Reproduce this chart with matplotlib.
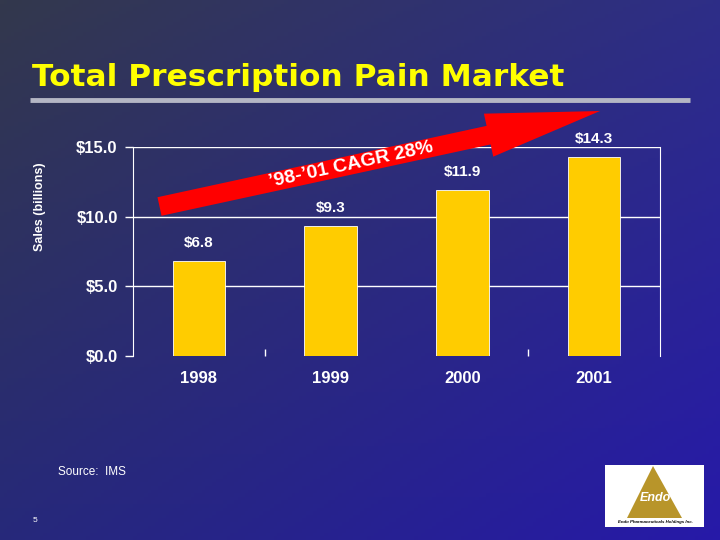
import numpy as np
import matplotlib
matplotlib.use("Agg")
import matplotlib.pyplot as plt
import matplotlib.patches as mpatches

plt.rcParams['font.family'] = ['Liberation Sans', 'DejaVu Sans']

# data
years = ['1998', '1999', '2000', '2001']
sales = [6.8, 9.3, 11.9, 14.3]
value_labels = ['$6.8', '$9.3', '$11.9', '$14.3']
yticks = [0, 5, 10, 15]
ytick_labels = ['$0.0', '$5.0', '$10.0', '$15.0']

W, H = 720, 540
fig = plt.figure(figsize=(7.2, 5.4), dpi=100)

# background gradient (bilinear between corner colours)
bg = fig.add_axes([0, 0, 1, 1])
tl = np.array([0.20, 0.22, 0.30])
tr = np.array([0.18, 0.18, 0.53])
bl = np.array([0.15, 0.16, 0.48])
br = np.array([0.15, 0.10, 0.66])
u = np.linspace(0, 1, 200)[None, :, None]
v = np.linspace(0, 1, 150)[:, None, None]
img = (1 - u) * (1 - v) * tl + u * (1 - v) * tr + (1 - u) * v * bl + u * v * br
bg.imshow(img, extent=[0, W, H, 0], aspect='auto')
bg.set_xlim(0, W)
bg.set_ylim(H, 0)
bg.axis('off')

# title and rule
bg.text(32, 78, 'Total Prescription Pain Market', color='#ffff00',
        fontsize=22.5, fontweight='bold', va='center', ha='left',
        family='DejaVu Sans')
bg.plot([30, 690], [100, 100], color='#b4b6c4', lw=3.5, solid_capstyle='butt')

# chart
ax = fig.add_axes([133 / W, 1 - 356 / H, (660 - 133) / W, (356 - 147) / H])
ax.patch.set_alpha(0)
x = np.arange(len(years))
ax.bar(x, sales, width=0.4, color='#ffcc00', edgecolor='white', linewidth=0.6, zorder=3)
ax.set_xlim(-0.5, 3.5)
ax.set_ylim(0, 15)
ax.set_yticks(yticks)
ax.set_yticklabels(ytick_labels)
ax.set_xticks([0.5, 2.5])
ax.set_xticklabels(['', ''])
for yy in yticks[1:]:
    ax.axhline(yy, color='white', lw=1, zorder=1)
for s in ['top', 'bottom']:
    ax.spines[s].set_visible(False)
for s in ['left', 'right']:
    ax.spines[s].set_color('white')
ax.tick_params(axis='y', colors='white', length=6, width=1, labelsize=12, pad=5)
ax.tick_params(axis='x', colors='white', length=5, width=1, direction='in')
for lab in ax.get_yticklabels():
    lab.set_fontweight('bold')
for i, yr in enumerate(years):
    ax.annotate(yr, (i, 0), xytext=(0, -16), textcoords='offset points',
                ha='center', va='center', color='white', fontsize=12, fontweight='bold')
for i, (v_, lab) in enumerate(zip(sales, value_labels)):
    ax.annotate(lab, (i, v_), xytext=(0, 13), textcoords='offset points',
                ha='center', va='center', color='white', fontsize=11, fontweight='bold',
                zorder=6)

fig.text(40 / W, 1 - 207 / H, 'Sales (billions)', rotation=90, color='white',
         fontsize=9, fontweight='bold', ha='center', va='center')

# CAGR arrow drawn in pixel space on an overlay
ov = fig.add_axes([0, 0, 1, 1])
ov.patch.set_alpha(0)
ov.set_xlim(0, W)
ov.set_ylim(H, 0)
ov.axis('off')
x0, y0, x1, y1 = 159.5, 206.5, 600, 111
arr = mpatches.FancyArrow(x0, y0, x1 - x0, y1 - y0, width=19, head_width=44,
                          head_length=114, length_includes_head=True,
                          color='#ff0000', linewidth=0)
ov.add_patch(arr)
ang = np.degrees(np.arctan2(y0 - y1, x1 - x0))
ov.text(351, 165, '\u201998-\u201901 CAGR 28%', rotation=ang, rotation_mode='anchor',
        ha='center', va='center', color='white', fontsize=14, fontweight='bold')

# footer
ov.text(58, 472, 'Source:  IMS', color='white', fontsize=8.5, ha='left', va='center')
ov.text(35, 521, '5', color='white', fontsize=6, ha='center', va='center')

# logo
ov.add_patch(mpatches.Rectangle((605, 465), 99, 62, facecolor='white', edgecolor='none'))
ov.add_patch(mpatches.Polygon([(653, 466), (627, 518), (682, 518)], closed=True,
                              facecolor='#b8952a', edgecolor='none'))
ov.text(655, 498, 'Endo', color='white', fontsize=9, fontweight='bold', style='italic',
        ha='center', va='center')
ov.text(655, 522, 'Endo Pharmaceuticals Holdings Inc.', color='black', fontsize=3.2,
        fontweight='bold', style='italic', ha='center', va='center')

fig.savefig('out.png', dpi=100)
